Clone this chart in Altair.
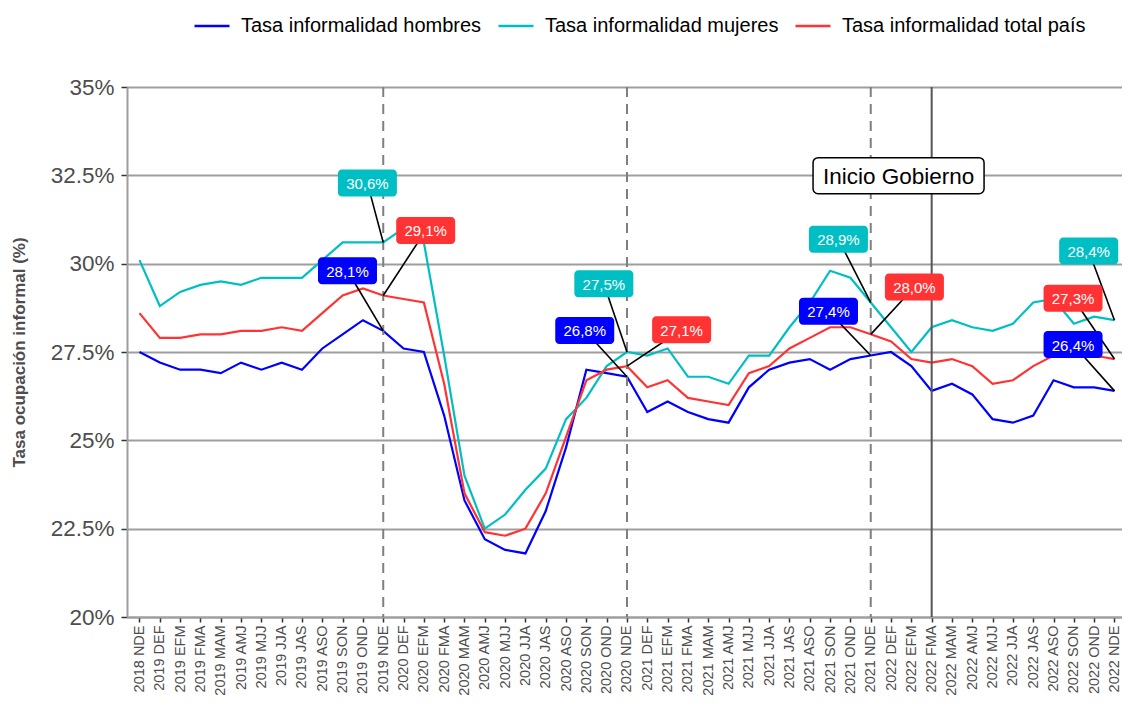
import altair as alt
import pandas as pd

categories = [
    "2018 NDE",
    "2019 DEF", "2019 EFM", "2019 FMA", "2019 MAM", "2019 AMJ", "2019 MJJ",
    "2019 JJA", "2019 JAS", "2019 ASO", "2019 SON", "2019 OND", "2019 NDE",
    "2020 DEF", "2020 EFM", "2020 FMA", "2020 MAM", "2020 AMJ", "2020 MJJ",
    "2020 JJA", "2020 JAS", "2020 ASO", "2020 SON", "2020 OND", "2020 NDE",
    "2021 DEF", "2021 EFM", "2021 FMA", "2021 MAM", "2021 AMJ", "2021 MJJ",
    "2021 JJA", "2021 JAS", "2021 ASO", "2021 SON", "2021 OND", "2021 NDE",
    "2022 DEF", "2022 EFM", "2022 FMA", "2022 MAM", "2022 AMJ", "2022 MJJ",
    "2022 JJA", "2022 JAS", "2022 ASO", "2022 SON", "2022 OND", "2022 NDE",
]

hombres = [
    27.5, 27.2, 27.0, 27.0, 26.9, 27.2, 27.0, 27.2, 27.0, 27.6, 28.0, 28.4, 28.1,
    27.6, 27.5, 25.7, 23.3, 22.2, 21.9, 21.8, 23.0, 24.8, 27.0, 26.9, 26.8,
    25.8, 26.1, 25.8, 25.6, 25.5, 26.5, 27.0, 27.2, 27.3, 27.0, 27.3, 27.4,
    27.5, 27.1, 26.4, 26.6, 26.3, 25.6, 25.5, 25.7, 26.7, 26.5, 26.5, 26.4,
]
mujeres = [
    30.1, 28.8, 29.2, 29.4, 29.5, 29.4, 29.6, 29.6, 29.6, 30.1, 30.6, 30.6, 30.6,
    31.0, 30.6, 27.4, 24.0, 22.5, 22.9, 23.6, 24.2, 25.6, 26.2, 27.1, 27.5,
    27.4, 27.6, 26.8, 26.8, 26.6, 27.4, 27.4, 28.2, 28.9, 29.8, 29.6, 28.9,
    28.2, 27.5, 28.2, 28.4, 28.2, 28.1, 28.3, 28.9, 29.0, 28.3, 28.5, 28.4,
]
total = [
    28.6, 27.9, 27.9, 28.0, 28.0, 28.1, 28.1, 28.2, 28.1, 28.6, 29.1, 29.3, 29.1,
    29.0, 28.9, 26.6, 23.5, 22.4, 22.3, 22.5, 23.5, 25.1, 26.7, 27.0, 27.1,
    26.5, 26.7, 26.2, 26.1, 26.0, 26.9, 27.1, 27.6, 27.9, 28.2, 28.2, 28.0,
    27.8, 27.3, 27.2, 27.3, 27.1, 26.6, 26.7, 27.1, 27.4, 27.4, 27.4, 27.3,
]

series_names = [
    "Tasa informalidad hombres",
    "Tasa informalidad mujeres",
    "Tasa informalidad total país",
]
series_colors = ["#0000FF", "#00BFC4", "#FF3333"]

# labelled points (index into categories)
label_idx = [12, 24, 36, 48]
# label box centres (x in category index units, y in %)
hombres_label_x = [10.24, 21.92, 33.92, 45.96]
hombres_label_y = [29.80, 28.11, 28.65, 27.71]
mujeres_label_x = [11.22, 22.86, 34.41, 46.73]
mujeres_label_y = [32.28, 29.43, 30.69, 30.36]
total_label_x = [14.09, 26.69, 38.15, 45.96]
total_label_y = [30.94, 28.13, 29.34, 29.02]

dashed_idx = [12, 24, 36]
solid_idx = [39]
annot_text = "Inicio Gobierno"
annot_x = [37.37]
annot_y = [32.49]

y_ticks = [20, 22.5, 25, 27.5, 30, 32.5, 35]

FONT = "Liberation Sans"

rows = []
for name, vals in zip(series_names, [hombres, mujeres, total]):
    for i, v in enumerate(vals):
        rows.append({"idx": i, "cat": categories[i], "serie": name, "valor": v})
df = pd.DataFrame(rows)

lab_rows = []
for name, vals, lx, ly in zip(
    series_names,
    [hombres, mujeres, total],
    [hombres_label_x, mujeres_label_x, total_label_x],
    [hombres_label_y, mujeres_label_y, total_label_y],
):
    for j, i in enumerate(label_idx):
        lab_rows.append({
            "serie": name, "idx": i, "valor": vals[i],
            "lx": lx[j], "ly": ly[j],
            "texto": f"{vals[i]:.1f}".replace(".", ",") + "%",
        })
dlab = pd.DataFrame(lab_rows)

x_label_expr = "[" + ",".join(f"'{c}'" for c in categories) + "][datum.value]"

x_scale = alt.Scale(domain=[-0.615, 48.37], nice=False, zero=False)
y_scale = alt.Scale(domain=[20, 35], nice=False, zero=False)
color_scale = alt.Scale(domain=series_names, range=series_colors)

x_axis = alt.Axis(
    values=list(range(len(categories))), labelExpr=x_label_expr, labelAngle=270,
    grid=False, domainColor="#9e9e9e", domainWidth=2, tickColor="#333333",
    tickSize=5, tickWidth=1.5, labelFontSize=14.5, labelColor="#4d4d4d",
    labelFont=FONT, labelPadding=3, title=None, labelOverlap=False,
    labelSeparation=0, labelFlush=False,
)
y_axis = alt.Axis(
    values=y_ticks, labelExpr="datum.value + '%'", grid=True, gridColor="#9e9e9e",
    gridWidth=2, domainColor="#9e9e9e", domainWidth=2, tickColor="#333333",
    tickSize=6, tickWidth=1.5, labelFontSize=22.5, labelColor="#4d4d4d",
    labelFont=FONT, labelPadding=7, title="Tasa ocupación informal (%)",
    titleFontSize=17, titleFont=FONT, titleFontWeight="bold", titleColor="#4d4d4d",
    titlePadding=22,
)


def X(field):
    return alt.X(field, scale=x_scale, axis=x_axis)


def Y(field):
    return alt.Y(field, scale=y_scale, axis=y_axis)


vdash = alt.Chart(pd.DataFrame({"idx": dashed_idx, "top": [35] * len(dashed_idx), "bot": [20] * len(dashed_idx)})).mark_rule(
    color="#7f7f7f", strokeWidth=2, strokeDash=[10, 7]
).encode(x=X("idx:Q"), y=Y("top:Q"), y2="bot:Q")

vsolid = alt.Chart(pd.DataFrame({"idx": solid_idx, "top": [35], "bot": [20]})).mark_rule(
    color="#555555", strokeWidth=2
).encode(x=X("idx:Q"), y=Y("top:Q"), y2="bot:Q")

lines = alt.Chart(df).mark_line(strokeWidth=2.2).encode(
    x=X("idx:Q"),
    y=Y("valor:Q"),
    color=alt.Color(
        "serie:N", scale=color_scale, title=None,
        legend=alt.Legend(
            orient="none", legendX=66, legendY=-80, direction="horizontal",
            symbolType="stroke", symbolStrokeWidth=2.5, symbolSize=1225,
            labelFontSize=20, labelFont=FONT, labelColor="#000000",
            labelOffset=10, columnPadding=11, labelLimit=400,
        ),
    ),
    detail="serie:N",
)

connectors = alt.Chart(dlab).mark_rule(color="#000000", strokeWidth=1.6).encode(
    x=X("lx:Q"), x2="idx:Q",
    y=Y("ly:Q"), y2="valor:Q",
)

boxes = alt.Chart(dlab).mark_rect(
    cornerRadius=4, xOffset=-29.5, x2Offset=29.5, yOffset=-13.5, y2Offset=13.5
).encode(
    x=X("lx:Q"), x2="lx:Q",
    y=Y("ly:Q"), y2="ly:Q",
    color=alt.Color("serie:N", scale=color_scale, legend=None),
)

box_text = alt.Chart(dlab).mark_text(
    color="white", fontSize=15, font=FONT, align="center", baseline="middle", dy=1
).encode(
    x=X("lx:Q"), y=Y("ly:Q"), text="texto:N"
)

annot_df = pd.DataFrame({"x": annot_x, "y": annot_y, "t": [annot_text]})
annot_box = alt.Chart(annot_df).mark_rect(
    fill="white", stroke="black", strokeWidth=1.5, cornerRadius=5,
    xOffset=-85.5, x2Offset=85.5, yOffset=-18, y2Offset=18,
).encode(
    x=X("x:Q"), x2="x:Q",
    y=Y("y:Q"), y2="y:Q",
)
annot_txt = alt.Chart(annot_df).mark_text(
    fontSize=22.5, font=FONT, color="black", align="center", baseline="middle", dy=1
).encode(
    x=X("x:Q"), y=Y("y:Q"), text="t:N"
)

chart = alt.layer(
    lines, vdash, vsolid, connectors, boxes, box_text, annot_box, annot_txt
).properties(
    width=995, height=530,
    padding={"left": 119, "top": 79, "right": 0, "bottom": 80},
    autosize=alt.AutoSizeParams(type="none"),
    background="white",
).configure_view(strokeWidth=0).configure_axisX(labelOverlap=False)

chart.save("out.html", embed_options={"renderer": "svg", "actions": False})
